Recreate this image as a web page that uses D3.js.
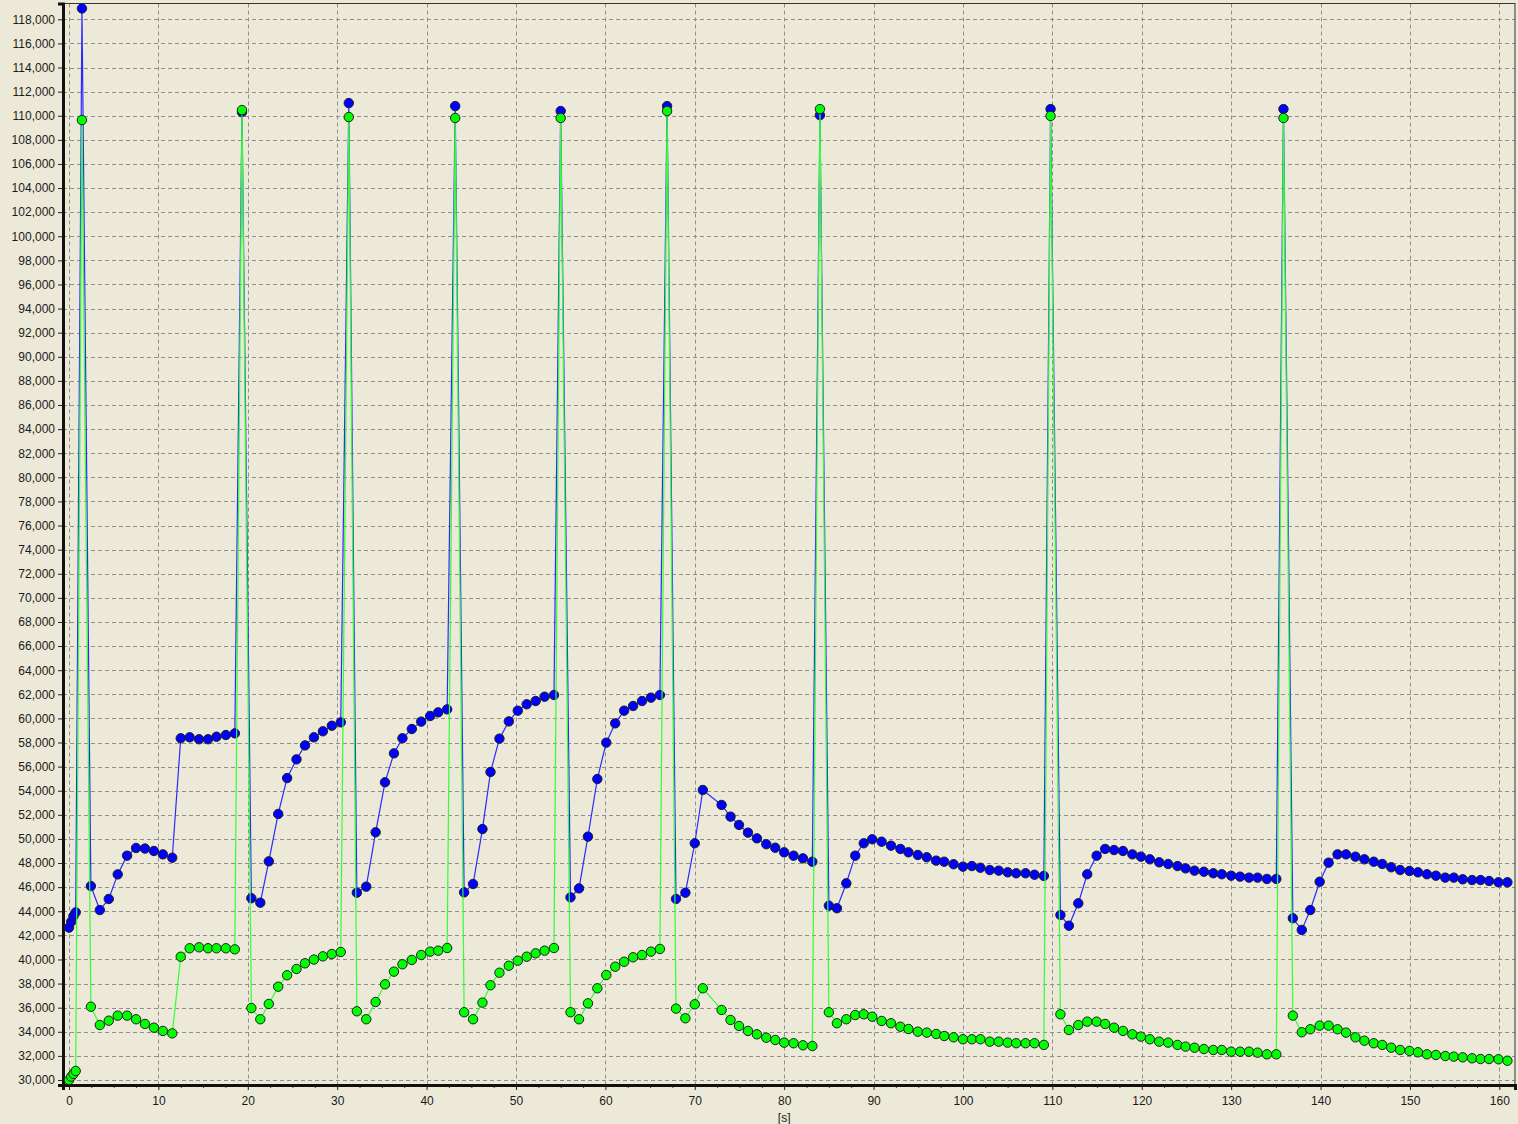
<!DOCTYPE html>
<html>
<head>
<meta charset="utf-8">
<script src="https://cdn.jsdelivr.net/npm/d3@7"></script>
<style>
  html, body { margin: 0; padding: 0; background: #ECE9D8; }
  svg { display: block; }
  text { font-family: "Liberation Sans", Arial, sans-serif; font-size: 12px; fill: #1a1a1a; }
</style>
</head>
<body>
<svg id="chart" width="1518" height="1124"></svg>
<script>
// ---- data (time in seconds) ----
const times = [
  0, 0.25, 0.5, 0.75, 1.45, 2.45, 3.45, 4.45, 5.45, 6.5, 7.5, 8.5, 9.5, 10.5, 11.55, 12.5, 13.5, 14.55, 15.55, 16.5, 17.55, 18.55,
  19.35, 20.4, 21.4, 22.35, 23.4, 24.4, 25.45, 26.4, 27.4, 28.4, 29.4, 30.4,
  31.3, 32.2, 33.25, 34.3, 35.35, 36.35, 37.3, 38.35, 39.4, 40.4, 41.3, 42.3,
  43.2, 44.2, 45.2, 46.25, 47.15, 48.15, 49.2, 50.2, 51.2, 52.2, 53.2, 54.25,
  55.0, 56.1, 57.05, 58.05, 59.1, 60.1, 61.1, 62.1, 63.1, 64.1, 65.1, 66.1,
  66.9, 67.9, 68.95, 70.0, 70.9, 73.0, 74.0, 74.95, 75.95, 76.95, 78.0, 79.0, 80.0, 81.05, 82.1, 83.15,
  84.0, 85.0, 85.9, 86.95, 87.95, 88.9, 89.85, 90.9, 91.95, 93.0, 93.9, 94.95, 95.95, 97.0, 97.9, 98.95, 100.0, 101.0, 101.95, 103.0, 104.0, 105.0, 105.95, 107.0, 108.0, 109.05,
  109.8, 110.9, 111.85, 112.9, 113.9, 114.95, 115.9, 116.9, 117.9, 118.95, 119.9, 120.9, 121.95, 122.95, 124.0, 124.9, 125.9, 126.95, 128.0, 128.95, 130.0, 131.0, 132.0, 132.95, 134.0, 135.05,
  135.85, 136.9, 137.9, 138.85, 139.9, 140.9, 141.9, 142.85, 143.9, 144.9, 145.95, 146.9, 147.9, 148.9, 149.95, 150.9, 151.9, 152.9, 153.95, 154.9, 155.9, 156.95, 157.9, 158.85, 159.9, 160.9
];

const blueValues = [
  42640, 43130, 43600, 43910, 118900, 46090, 44100, 45020, 47060, 48610, 49250, 49200, 49000, 48720, 48440, 58350, 58430, 58270, 58270, 58480, 58620, 58760,
  110300, 45080, 44710, 48140, 52070, 55050, 56600, 57760, 58430, 58930, 59390, 59670,
  111050, 45540, 46040, 50550, 54700, 57100, 58350, 59120, 59730, 60200, 60500, 60750,
  110800, 45570, 46260, 50820, 55550, 58320, 59750, 60640, 61170, 61440, 61800, 61940,
  110390, 45150, 45900, 50190, 54970, 57990, 59590, 60640, 61030, 61440, 61720, 61940,
  110800, 45020, 45540, 49640, 54060, 52820, 51850, 51160, 50520, 50050, 49560, 49270, 48890, 48610, 48390, 48110,
  110050, 44460, 44250, 46320, 48610, 49640, 49970, 49770, 49440, 49170, 48890, 48670, 48480, 48200, 48110, 47900, 47700, 47750, 47610, 47420, 47370, 47230, 47150, 47150, 47030, 46930,
  110550, 43690, 42800, 44660, 47070, 48610, 49170, 49080, 49000, 48720, 48530, 48310, 48060, 47920, 47750, 47560, 47370, 47280, 47150, 47070, 46950, 46870, 46790, 46790, 46680, 46680,
  110550, 43420, 42450, 44100, 46450, 48030, 48720, 48720, 48530, 48310, 48110, 47920, 47650, 47420, 47340, 47230, 47070, 46950, 46790, 46790, 46650, 46590, 46590, 46510, 46400, 46400
];

const greenValues = [
  30000, 30280, 30500, 30750, 109640, 36080, 34560, 34920, 35340, 35340, 35040, 34650, 34340, 34070, 33870, 40230, 40930, 41010, 40930, 40930, 40930, 40840,
  110470, 35970, 35040, 36310, 37740, 38690, 39210, 39680, 39990, 40260, 40450, 40620,
  109890, 35700, 35040, 36470, 37940, 38990, 39600, 39960, 40370, 40650, 40730, 40950,
  109810, 35620, 35040, 36420, 37860, 38900, 39480, 39900, 40230, 40510, 40730, 40950,
  109810, 35620, 35040, 36360, 37610, 38710, 39400, 39810, 40180, 40370, 40650, 40870,
  110390, 35920, 35120, 36280, 37610, 35810, 34980, 34480, 34070, 33790, 33510, 33320, 33100, 33050, 32880, 32820,
  110550, 35620, 34710, 35040, 35390, 35450, 35250, 34900, 34710, 34420, 34230, 34010, 33930, 33820, 33650, 33540, 33380, 33380, 33380, 33180, 33180, 33100, 33050, 33050, 33050, 32910,
  109980, 35450, 34150, 34560, 34840, 34840, 34650, 34340, 34070, 33790, 33600, 33380, 33180, 33100, 32910, 32770, 32680, 32570, 32490, 32490, 32350, 32350, 32350, 32270, 32130, 32130,
  109810, 35340, 33960, 34210, 34510, 34510, 34210, 33930, 33540, 33260, 33050, 32910, 32680, 32490, 32410, 32300, 32130, 32080, 31990, 31940, 31880, 31800, 31740, 31740, 31720, 31600
];

const xMajorTicks = [0, 10, 20, 30, 40, 50, 60, 70, 80, 90, 100, 110, 120, 130, 140, 150, 160];
const yTicks = d3.range(30000, 118001, 2000);
const xLabel = "[s]";

// ---- layout ----
const W = 1518, H = 1124;
const plot = { left: 63, right: 1515, top: 3.5, bottom: 1085 };

const x = d3.scaleLinear().domain([-0.67, 161.75]).range([plot.left, plot.right]);
const y = d3.scaleLinear().domain([29585, 119311]).range([plot.bottom, plot.top]);

const svg = d3.select("#chart");
svg.append("rect").attr("width", W).attr("height", H).attr("fill", "#ECE9D8");

// grid
const grid = svg.append("g");
grid.selectAll("line.hg").data(yTicks).join("line")
  .attr("x1", plot.left).attr("x2", plot.right)
  .attr("y1", d => Math.round(y(d)) + 0.5).attr("y2", d => Math.round(y(d)) + 0.5)
  .attr("stroke", "#8f8f8f").attr("stroke-width", 1).attr("stroke-dasharray", "4,3");
grid.selectAll("line.vg").data(xMajorTicks).join("line")
  .attr("y1", plot.top).attr("y2", plot.bottom)
  .attr("x1", d => Math.round(x(d)) + 0.5).attr("x2", d => Math.round(x(d)) + 0.5)
  .attr("stroke", "#8f8f8f").attr("stroke-width", 1).attr("stroke-dasharray", "4,3");

// frame (thin top/right)
svg.append("rect")
  .attr("x", plot.left).attr("y", plot.top)
  .attr("width", plot.right - plot.left).attr("height", plot.bottom - plot.top)
  .attr("fill", "none").attr("stroke", "#333").attr("stroke-width", 1);

// axes
const yAxis = d3.axisLeft(y).tickValues(yTicks).tickSize(5).tickPadding(3)
  .tickFormat(d3.format(","));
const gy = svg.append("g").attr("transform", `translate(${plot.left},0)`).call(yAxis);
gy.select(".domain").attr("stroke", "#111").attr("stroke-width", 3);
gy.selectAll(".tick line").attr("stroke", "#222");
gy.selectAll(".tick text").attr("font-family", "Liberation Sans, Arial, sans-serif").attr("font-size", 12.5).attr("fill", "#1a1a1a");

const xMinor = d3.range(0, 161, 2.5).filter(v => v % 10 !== 0);
const gxm = svg.append("g").attr("transform", `translate(0,${plot.bottom})`)
  .call(d3.axisBottom(x).tickValues(xMinor).tickSize(3).tickFormat(""));
gxm.select(".domain").remove();
gxm.selectAll(".tick line").attr("stroke", "#444");

const xAxis = d3.axisBottom(x).tickValues(xMajorTicks).tickSize(5).tickPadding(6).tickFormat(d3.format("d"));
const gx = svg.append("g").attr("transform", `translate(0,${plot.bottom})`).call(xAxis);
gx.select(".domain").attr("stroke", "#111").attr("stroke-width", 3);
gx.selectAll(".tick line").attr("stroke", "#222");
gx.selectAll(".tick text").attr("font-family", "Liberation Sans, Arial, sans-serif").attr("font-size", 12.5).attr("fill", "#1a1a1a");

svg.append("text").attr("x", x(80)).attr("y", 1122).attr("text-anchor", "middle").attr("font-size", 12.5).text(xLabel);

// series
const clip = svg.append("clipPath").attr("id", "clip").append("rect")
  .attr("x", plot.left + 1).attr("y", plot.top - 6).attr("width", plot.right - plot.left).attr("height", plot.bottom - plot.top + 6);
const gs = svg.append("g").attr("clip-path", "url(#clip)");

const blueData = times.map((t, i) => [t, blueValues[i]]);
const greenData = times.map((t, i) => [t, greenValues[i]]);
const line = d3.line().x(d => x(d[0])).y(d => y(d[1]));

function drawSeries(data, lineColor, fill) {
  gs.append("path").datum(data).attr("d", line)
    .attr("fill", "none").attr("stroke", lineColor).attr("stroke-width", 1.2);
  gs.append("g").selectAll("circle").data(data).join("circle")
    .attr("cx", d => x(d[0])).attr("cy", d => y(d[1])).attr("r", 4.7)
    .attr("fill", fill).attr("stroke", "#1e1e1e").attr("stroke-width", 1);
}
drawSeries(blueData, "#2a2aff", "#0000ff");
drawSeries(greenData, "#33ff33", "#00ff00");
</script>
</body>
</html>
